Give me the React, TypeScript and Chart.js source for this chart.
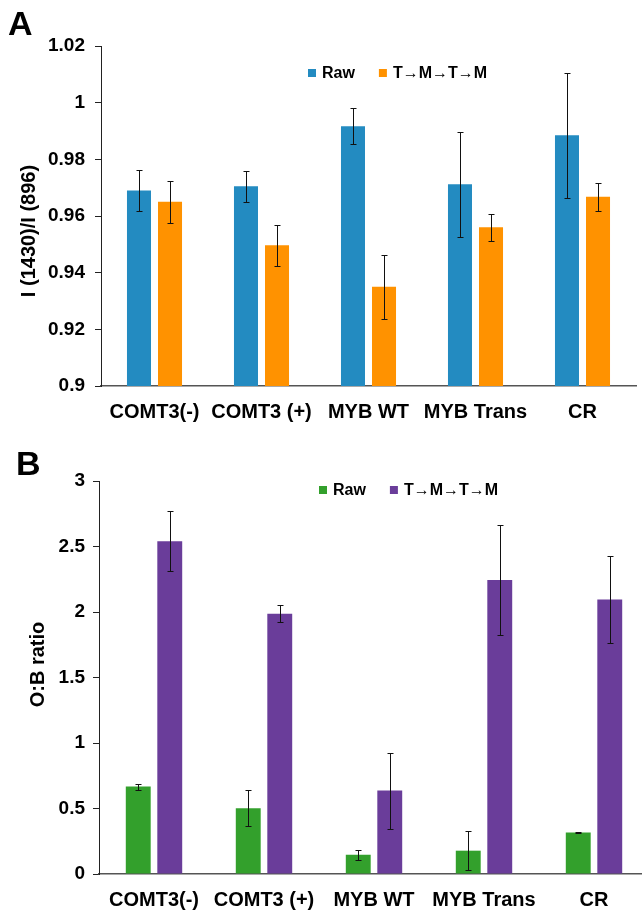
import React, { useEffect, useRef } from 'react';
import { Chart, registerables } from 'chart.js';

Chart.register(...registerables);

// ---------- data ----------
const categories = ['COMT3(-)', 'COMT3 (+)', 'MYB WT', 'MYB Trans', 'CR'];
const seriesLabels = ['Raw', 'T→M→T→M'];

// Panel A: I(1430)/I(896)
const ratioRaw = [0.969, 0.9705, 0.9917, 0.9712, 0.9885];
const ratioRawErr = [0.0072, 0.0055, 0.0064, 0.0185, 0.022];
const ratioTMTM = [0.965, 0.9497, 0.935, 0.956, 0.9668];
const ratioTMTMErr = [0.0075, 0.0072, 0.0114, 0.0047, 0.005];
const ratioAxis = { min: 0.9, max: 1.02, step: 0.02 };

// Panel B: O:B ratio
const obRaw = [0.667, 0.502, 0.147, 0.178, 0.317];
const obRawErr = [0.023, 0.136, 0.04, 0.15, 0.003];
const obTMTM = [2.54, 1.986, 0.637, 2.245, 2.095];
const obTMTMErr = [0.23, 0.065, 0.29, 0.42, 0.33];
const obAxis = { min: 0, max: 3, step: 0.5 };

// ---------- style ----------
const FONT = '"Liberation Sans", Arial, Helvetica, sans-serif';
const COLORS = {
  blue: '#238BC1',
  orange: '#FF9200',
  green: '#33A02C',
  purple: '#6A3D9A',
};

const fmt = (v: any) => String(Math.round(Number(v) * 100) / 100);

// ---------- plugins ----------
const errorBarPlugin = {
  id: 'errorBars',
  afterDatasetsDraw(chart: any, _args: any, opts: any) {
    const { ctx } = chart;
    const yScale = chart.scales.y;
    chart.data.datasets.forEach((ds: any, di: number) => {
      const errs = ds.errors;
      if (!errs) return;
      const meta = chart.getDatasetMeta(di);
      meta.data.forEach((bar: any, i: number) => {
        const v = ds.data[i];
        const e = errs[i];
        const yTop = Math.round(yScale.getPixelForValue(v + e)) + 0.5;
        const yBot = Math.round(yScale.getPixelForValue(v - e)) + 0.5;
        const x = Math.round(bar.x) + 0.5;
        const cap = opts.cap ?? 3;
        ctx.save();
        ctx.strokeStyle = opts.color ?? '#000';
        ctx.lineWidth = opts.width ?? 1;
        ctx.beginPath();
        ctx.moveTo(x, yTop);
        ctx.lineTo(x, yBot);
        ctx.moveTo(x - cap, yTop);
        ctx.lineTo(x + cap, yTop);
        ctx.moveTo(x - cap, yBot);
        ctx.lineTo(x + cap, yBot);
        ctx.stroke();
        ctx.restore();
      });
    });
  },
};

const insideLegendPlugin = {
  id: 'insideLegend',
  afterDraw(chart: any, _args: any, opts: any) {
    const { ctx, chartArea } = chart;
    let x = chartArea.left + opts.offsetX;
    const y = opts.y;
    const box = opts.box ?? 8;
    ctx.save();
    ctx.font = opts.font;
    ctx.textBaseline = 'middle';
    ctx.textAlign = 'left';
    chart.data.datasets.forEach((ds: any) => {
      ctx.fillStyle = ds.backgroundColor;
      ctx.fillRect(x, y - box / 2, box, box);
      x += box + opts.textGap;
      ctx.fillStyle = '#000';
      ctx.fillText(ds.label, x, y + 1);
      x += ctx.measureText(ds.label).width + opts.itemGap;
    });
    ctx.restore();
  },
};

const yTitlePlugin = {
  id: 'yTitle',
  afterDraw(chart: any, _args: any, opts: any) {
    const { ctx, chartArea } = chart;
    const cy = (chartArea.top + chartArea.bottom) / 2 + (opts.dy ?? 0);
    ctx.save();
    ctx.translate(opts.x, cy);
    ctx.rotate(-Math.PI / 2);
    ctx.font = opts.font;
    ctx.fillStyle = '#000';
    ctx.textAlign = 'center';
    ctx.textBaseline = 'middle';
    ctx.fillText(opts.text, 0, 0);
    ctx.restore();
  },
};

// ---------- config builder ----------
function buildConfig(p: any) {
  return {
    type: 'bar',
    data: {
      labels: categories,
      datasets: [
        {
          label: seriesLabels[0],
          data: p.a,
          errors: p.aErr,
          backgroundColor: p.colorA,
          barPercentage: p.barPct,
          categoryPercentage: p.catPct,
        },
        {
          label: seriesLabels[1],
          data: p.b,
          errors: p.bErr,
          backgroundColor: p.colorB,
          barPercentage: p.barPct,
          categoryPercentage: p.catPct,
        },
      ],
    },
    options: {
      responsive: false,
      animation: false,
      events: [],
      layout: { padding: { top: p.padTop, right: p.padRight, left: 0, bottom: 0 } },
      scales: {
        x: {
          grid: { display: false, drawTicks: false },
          border: { display: true, color: '#555', width: 1.5 },
          ticks: {
            color: '#000',
            font: { family: FONT, size: 20, weight: 'bold' },
            padding: 14,
            maxRotation: 0,
            autoSkip: false,
          },
          afterFit: (s: any) => {
            s.height = p.xHeight;
          },
        },
        y: {
          min: p.axis.min,
          max: p.axis.max,
          grid: {
            display: true,
            drawOnChartArea: false,
            drawTicks: true,
            tickLength: 6,
            color: '#222',
            lineWidth: 1,
          },
          border: { display: true, color: '#222', width: 1 },
          ticks: {
            stepSize: p.axis.step,
            color: '#000',
            font: { family: FONT, size: 19, weight: 'bold' },
            padding: p.yTickPad,
            callback: fmt,
          },
          afterFit: (s: any) => {
            s.width = p.yWidth;
          },
        },
      },
      plugins: {
        legend: { display: false },
        tooltip: { enabled: false },
        errorBars: { color: '#111', width: 1, cap: 3 },
        insideLegend: {
          offsetX: p.legendOffsetX,
          y: p.legendY,
          box: 8,
          textGap: 6,
          itemGap: 24,
          font: `bold 16px ${FONT}`,
        },
        yTitle: {
          text: p.yTitle,
          x: p.yTitleX,
          dy: p.yTitleDy,
          font: `bold 20px ${FONT}`,
        },
      },
    },
    plugins: [errorBarPlugin, insideLegendPlugin, yTitlePlugin],
  };
}

function BarPanel({ width, height, params }: { width: number; height: number; params: any }) {
  const ref = useRef<HTMLCanvasElement | null>(null);
  useEffect(() => {
    if (!ref.current) return;
    const chart = new Chart(ref.current, buildConfig(params) as any);
    return () => chart.destroy();
  }, []);
  return <canvas ref={ref} width={width} height={height} style={{ display: 'block', width, height }} />;
}

const panelA = {
  a: ratioRaw,
  aErr: ratioRawErr,
  b: ratioTMTM,
  bErr: ratioTMTMErr,
  colorA: COLORS.blue,
  colorB: COLORS.orange,
  axis: ratioAxis,
  barPct: 0.774,
  catPct: 0.58,
  padTop: 46,
  padRight: 6,
  xHeight: 44,
  yWidth: 101,
  yTickPad: 10,
  legendOffsetX: 207,
  legendY: 73,
  yTitle: 'I (1430)/I (896)',
  yTitleX: 29,
  yTitleDy: 15,
};

const panelB = {
  a: obRaw,
  aErr: obRawErr,
  b: obTMTM,
  bErr: obTMTMErr,
  colorA: COLORS.green,
  colorB: COLORS.purple,
  axis: obAxis,
  barPct: 0.79,
  catPct: 0.573,
  padTop: 41,
  padRight: 3,
  xHeight: 37,
  yWidth: 99,
  yTickPad: 8,
  legendOffsetX: 220,
  legendY: 50,
  yTitle: 'O:B ratio',
  yTitleX: 38,
  yTitleDy: -13,
};

const letterStyle: React.CSSProperties = {
  position: 'absolute',
  fontFamily: FONT,
  fontWeight: 'bold',
  fontSize: 34,
  lineHeight: '34px',
  color: '#000',
  margin: 0,
};

export default function App() {
  return (
    <div
      style={{
        position: 'absolute',
        left: 0,
        top: 0,
        width: 642,
        height: 911,
        overflow: 'hidden',
        background: '#fff',
      }}
    >
      <div style={{ position: 'absolute', left: 0, top: 0 }}>
        <BarPanel width={642} height={430} params={panelA} />
      </div>
      <div style={{ position: 'absolute', left: 0, top: 440 }}>
        <BarPanel width={652} height={471} params={panelB} />
      </div>
      <div style={{ ...letterStyle, left: 8, top: 6 }}>A</div>
      <div style={{ ...letterStyle, left: 16, top: 446 }}>B</div>
    </div>
  );
}
